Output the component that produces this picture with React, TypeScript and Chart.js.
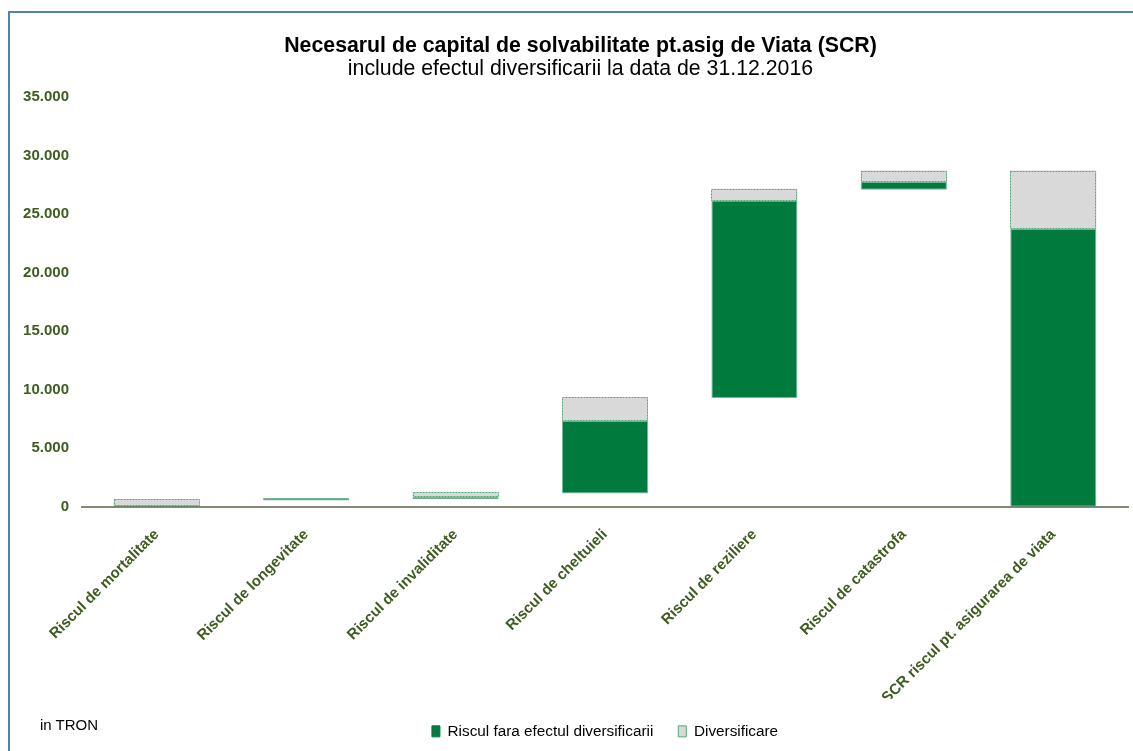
import React, { useEffect, useRef } from "react";
import { Chart, registerables } from "chart.js";

Chart.register(...registerables);

const categories = [
  "Riscul de mortalitate",
  "Riscul de longevitate",
  "Riscul de invaliditate",
  "Riscul de cheltuieli",
  "Riscul de reziliere",
  "Riscul de catastrofa",
  "SCR riscul pt. asigurarea de viata",
];
const seriesNames = ["Riscul fara efectul diversificarii", "Diversificare"];
// floating bar ranges (lei thousands)
const riskStart = [0, 530, 640, 1130, 9290, 27060, 0];
const riskEnd = [60, 750, 840, 7340, 26140, 27740, 23745];
const divStart = [60, null, 840, 7340, 26140, 27740, 23745];
const divEnd = [640, null, 1215, 9345, 27145, 28710, 28710];
const yMin = 0;
const yMax = 35000;
const yStep = 5000;
const titleText = "Necesarul de capital de solvabilitate pt.asig de Viata (SCR)";
const subtitleText = "include efectul diversificarii la data de 31.12.2016";
const unitNote = "in TRON";

const FONT = "'Liberation Sans', Arial, sans-serif";
const LABEL_COLOR = "#3E5C1F";
const GREEN = "#007A3D";
const GRAY = "#D9D9D9";
const CANVAS_W = 1166;
const CANVAS_H = 751;

function fmt(v: number): string {
  return String(v).replace(/\B(?=(\d{3})+(?!\d))/g, ".");
}

// dotted outline for the "Diversificare" bars, drawn from the bar elements
const dottedOutline = {
  id: "dottedOutline",
  afterDatasetsDraw(chart: any) {
    const meta = chart.getDatasetMeta(1);
    const ctx = chart.ctx;
    ctx.save();
    ctx.strokeStyle = "#4FA874";
    ctx.lineWidth = 1;
    ctx.setLineDash([2, 1]);
    meta.data.forEach((el: any, i: number) => {
      const raw = chart.data.datasets[1].data[i];
      if (!raw) return;
      const { x, y, base, width } = el.getProps(["x", "y", "base", "width"], true);
      const left = Math.round(x - width / 2) + 0.5;
      const right = Math.round(x + width / 2) - 0.5;
      const top = Math.round(Math.min(y, base)) + 0.5;
      const bottom = Math.round(Math.max(y, base)) - 0.5;
      ctx.strokeRect(left, top, right - left, bottom - top);
    });
    ctx.restore();
  },
};

export default function App() {
  const ref = useRef<HTMLCanvasElement | null>(null);

  useEffect(() => {
    if (!ref.current) return;
    const riskData = categories.map((_, i) => [riskStart[i], riskEnd[i]]);
    const divData = categories.map((_, i) =>
      divStart[i] === null || divEnd[i] === null ? null : [divStart[i], divEnd[i]]
    );
    const chart = new Chart(ref.current, {
      type: "bar",
      data: {
        labels: categories,
        datasets: [
          {
            label: seriesNames[0],
            data: riskData as any,
            backgroundColor: GREEN,
            borderColor: "rgba(0,122,61,0.55)",
            borderWidth: 1,
            borderSkipped: false,
            categoryPercentage: 1,
            barPercentage: 0.576,
            yAxisID: "y",
          },
          {
            label: seriesNames[1],
            data: divData as any,
            backgroundColor: GRAY,
            borderColor: "#4FA874",
            borderWidth: 0,
            borderSkipped: false,
            categoryPercentage: 1,
            barPercentage: 0.576,
            yAxisID: "y",
          },
        ],
      },
      options: {
        animation: false,
        responsive: false,
        maintainAspectRatio: false,
        layout: { padding: { left: 0, right: 5, top: 0, bottom: 2 } },
        plugins: {
          title: {
            display: true,
            text: titleText,
            color: "#000",
            font: { family: FONT, size: 21.3, weight: "bold", lineHeight: 1.0 },
            padding: { top: 35, bottom: 0 },
          },
          subtitle: {
            display: true,
            text: subtitleText,
            color: "#000",
            font: { family: FONT, size: 21.3, weight: "normal", lineHeight: 1.2 },
            padding: { top: 0, bottom: 15 },
          },
          legend: {
            display: true,
            position: "bottom",
            fullSize: false,
            labels: {
              color: "#000",
              font: { family: FONT, size: 15.3 },
              boxWidth: 8,
              boxHeight: 11,
              padding: 25,
              generateLabels: (chart: any) =>
                chart.data.datasets.map((ds: any, i: number) => ({
                  text: ds.label,
                  fillStyle: ds.backgroundColor,
                  strokeStyle: i === 1 ? "#4FA874" : ds.backgroundColor,
                  lineWidth: 1,
                  hidden: false,
                  datasetIndex: i,
                  fontColor: "#000",
                })),
            },
          },
          tooltip: { enabled: false },
        },
        scales: {
          x: {
            stacked: true,
            grid: { display: false, drawTicks: false },
            border: { display: true, color: "#868A74", width: 2 },
            ticks: {
              color: LABEL_COLOR,
              font: { family: FONT, size: 15, weight: "bold" },
              minRotation: 45,
              maxRotation: 45,
              padding: 19,
              autoSkip: false,
            },
            afterFit: (scale: any) => {
              scale.height = 192;
            },
          },
          y: {
            stacked: false,
            min: yMin,
            max: yMax,
            grid: { display: false, drawTicks: false },
            border: { display: false },
            ticks: {
              stepSize: yStep,
              color: LABEL_COLOR,
              font: { family: FONT, size: 15, weight: "bold" },
              padding: 13,
              callback: (v: any) => fmt(Number(v)),
            },
            afterFit: (scale: any) => {
              scale.width = 82;
            },
          },
          yRightSpacer: {
            type: "linear",
            position: "right",
            display: true,
            grid: { display: false, drawTicks: false },
            border: { display: false },
            ticks: { display: false },
            afterFit: (scale: any) => {
              scale.width = CANVAS_W - 5 - 1128;
            },
          },
        },
      },
      plugins: [dottedOutline],
    });
    return () => chart.destroy();
  }, []);

  return (
    <div
      style={{
        position: "fixed",
        left: 0,
        top: 0,
        width: 1133,
        height: 751,
        overflow: "hidden",
        background: "#fff",
      }}
    >
      <canvas
        ref={ref}
        width={CANVAS_W}
        height={CANVAS_H}
        style={{ position: "absolute", left: 0, top: 0, width: CANVAS_W, height: CANVAS_H }}
      />
      <div
        style={{
          position: "absolute",
          left: 8,
          top: 11,
          width: 1300,
          height: 900,
          borderLeft: "2px solid #4F81BD",
          borderTop: "2px solid #4F81BD",
          pointerEvents: "none",
        }}
      />
      <div
        style={{
          position: "absolute",
          left: 40,
          top: 716,
          fontFamily: FONT,
          fontSize: 15,
          lineHeight: "17px",
          color: "#000",
        }}
      >
        {unitNote}
      </div>
    </div>
  );
}
